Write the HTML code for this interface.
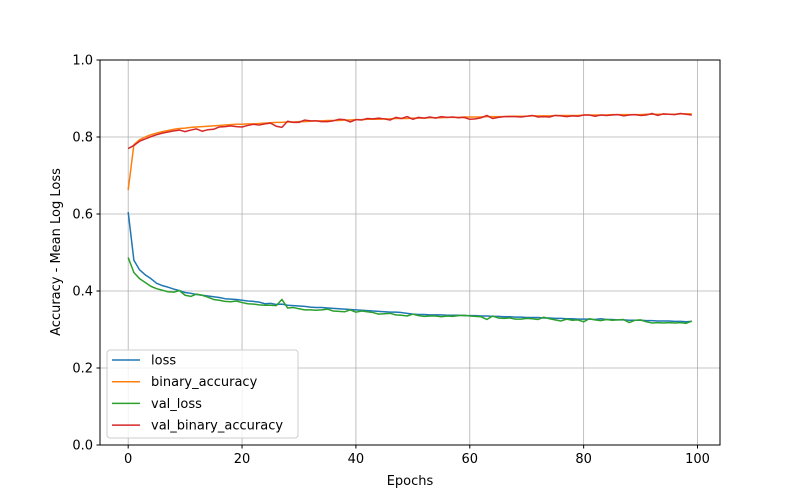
<!DOCTYPE html>
<html><head><meta charset="utf-8"><style>
html,body{margin:0;padding:0;background:#fff}
svg{display:block;font-family:"DejaVu Sans","Liberation Sans",sans-serif}
</style></head><body>
<svg id="chart" width="800" height="500">
<rect x="0" y="0" width="800" height="500" fill="#fff"/>
<g id="grid"></g>
<g id="lines"></g>
<rect x="100" y="60" width="620" height="385" fill="none" stroke="#000" stroke-width="1"/>
<g id="ticks" font-size="13"></g>
<text x="410" y="485" text-anchor="middle" font-size="13">Epochs</text>
<text transform="translate(60,252) rotate(-90)" text-anchor="middle" font-size="13">Accuracy - Mean Log Loss</text>
<g id="legend"></g>
</svg>
<script>
const seriesNames = ["loss","binary_accuracy","val_loss","val_binary_accuracy"];
const seriesColors = ["#1f77b4","#ff7f0e","#2ca02c","#d62728"];
const xTicks = [0,20,40,60,80,100];
const yTicks = [0.0,0.2,0.4,0.6,0.8,1.0];
const loss = [0.605,0.480,0.455,0.442,0.432,0.420,0.414,0.410,0.405,0.401,
0.396,0.394,0.391,0.389,0.387,0.385,0.383,0.380,0.379,0.378,
0.376,0.374,0.373,0.371,0.367,0.368,0.365,0.366,0.363,0.362,
0.361,0.360,0.358,0.357,0.357,0.356,0.355,0.354,0.353,0.352,
0.351,0.350,0.349,0.348,0.347,0.346,0.345,0.345,0.344,0.342,
0.340,0.339,0.339,0.338,0.338,0.338,0.337,0.337,0.337,0.336,
0.336,0.336,0.335,0.335,0.334,0.334,0.333,0.333,0.332,0.332,
0.331,0.331,0.331,0.330,0.330,0.329,0.329,0.328,0.328,0.327,
0.327,0.327,0.326,0.328,0.326,0.326,0.325,0.325,0.324,0.324,
0.324,0.323,0.323,0.322,0.322,0.322,0.321,0.321,0.320,0.321];
const binaryAccuracy = [0.662,0.780,0.793,0.800,0.806,0.810,0.814,0.817,0.820,0.822,
0.823,0.825,0.826,0.827,0.828,0.829,0.830,0.831,0.832,0.833,
0.833,0.834,0.834,0.835,0.836,0.837,0.838,0.838,0.839,0.839,
0.840,0.840,0.841,0.842,0.842,0.843,0.843,0.843,0.844,0.844,
0.845,0.845,0.846,0.846,0.846,0.847,0.847,0.848,0.848,0.848,
0.849,0.849,0.849,0.850,0.850,0.850,0.851,0.851,0.851,0.852,
0.852,0.852,0.852,0.853,0.853,0.853,0.853,0.854,0.854,0.854,
0.854,0.855,0.855,0.855,0.855,0.856,0.856,0.856,0.856,0.856,
0.857,0.857,0.857,0.857,0.857,0.858,0.858,0.858,0.858,0.858,
0.858,0.859,0.859,0.859,0.859,0.859,0.859,0.860,0.860,0.860];
const valLoss = [0.487,0.448,0.432,0.422,0.412,0.406,0.402,0.398,0.397,0.401,
0.389,0.386,0.392,0.389,0.384,0.378,0.376,0.373,0.372,0.374,
0.370,0.367,0.366,0.364,0.363,0.363,0.362,0.378,0.356,0.357,
0.354,0.351,0.351,0.350,0.351,0.353,0.348,0.347,0.346,0.351,
0.345,0.348,0.346,0.344,0.340,0.341,0.342,0.338,0.337,0.335,
0.340,0.336,0.334,0.335,0.335,0.333,0.335,0.334,0.336,0.337,
0.335,0.334,0.333,0.326,0.335,0.330,0.329,0.330,0.327,0.327,
0.329,0.328,0.326,0.332,0.328,0.325,0.322,0.327,0.324,0.325,
0.320,0.328,0.325,0.323,0.326,0.324,0.325,0.326,0.318,0.324,
0.325,0.320,0.317,0.318,0.317,0.318,0.317,0.318,0.316,0.322];
const valBinaryAccuracy = [0.770,0.778,0.789,0.795,0.801,0.806,0.810,0.813,0.816,0.818,
0.814,0.818,0.821,0.815,0.819,0.820,0.826,0.827,0.829,0.827,
0.826,0.830,0.833,0.831,0.834,0.836,0.828,0.825,0.841,0.838,
0.838,0.844,0.842,0.842,0.840,0.840,0.842,0.846,0.845,0.839,
0.845,0.844,0.848,0.847,0.849,0.847,0.844,0.851,0.848,0.853,
0.846,0.851,0.849,0.852,0.849,0.853,0.851,0.852,0.850,0.851,
0.846,0.847,0.850,0.856,0.848,0.851,0.853,0.853,0.853,0.852,
0.854,0.856,0.852,0.853,0.852,0.856,0.855,0.853,0.855,0.854,
0.857,0.857,0.854,0.857,0.856,0.857,0.858,0.855,0.857,0.858,
0.856,0.857,0.861,0.856,0.860,0.859,0.858,0.861,0.859,0.857];

const NS="http://www.w3.org/2000/svg";
const X0=100,X1=720,Y0=60,Y1=445,XMIN=-4.95,XMAX=103.95;
function xs(v){return X0+(v-XMIN)/(XMAX-XMIN)*(X1-X0);}
function ys(v){return Y1-v*(Y1-Y0);}
function mk(t,a,p){const e=document.createElementNS(NS,t);for(const k in a)e.setAttribute(k,a[k]);p.appendChild(e);return e;}
const grid=document.getElementById('grid'),ticks=document.getElementById('ticks'),lines=document.getElementById('lines'),legend=document.getElementById('legend');
xTicks.forEach(v=>{const x=xs(v);
 const g=mk('line',{x1:x,x2:x,y1:Y0,y2:Y1,stroke:'#b0b0b0','stroke-width':0.8},grid);
 
 
 mk('line',{x1:x,x2:x,y1:Y1,y2:Y1+3.5,stroke:'#000'},ticks);
 const t=mk('text',{x:x,y:Y1+18,'text-anchor':'middle'},ticks);t.textContent=v;
 
 
});
yTicks.forEach(v=>{const y=ys(v);
 const g=mk('line',{x1:X0,x2:X1,y1:y,y2:y,stroke:'#b0b0b0','stroke-width':0.8},grid);
 
 
 mk('line',{x1:X0-3.5,x2:X0,y1:y,y2:y,stroke:'#000'},ticks);
 const t=mk('text',{x:X0-7,y:y+4.5,'text-anchor':'end'},ticks);t.textContent=v.toFixed(1);
 
 
});
const data=[loss,binaryAccuracy,valLoss,valBinaryAccuracy];
data.forEach((arr,i)=>{
 const d=arr.map((v,k)=>(k?'L':'M')+xs(k).toFixed(2)+','+ys(v).toFixed(2)).join('');
 const p=mk('path',{d:d,fill:'none',stroke:seriesColors[i],'stroke-width':1.5,'stroke-linejoin':'round'},lines);
 
 
});
mk('rect',{x:107,y:350,width:191,height:88,rx:3,fill:'#fff','fill-opacity':0.8,stroke:'#ccc'},legend);
seriesNames.forEach((n,i)=>{const y=360+i*21.7;
 const l=mk('line',{x1:112,x2:140,y1:y,y2:y,stroke:seriesColors[i],'stroke-width':1.5},legend);
 
 
 const t=mk('text',{x:151,y:y+4.5,'font-size':13},legend);t.textContent=n;
 
 
});
</script>
</body></html>
